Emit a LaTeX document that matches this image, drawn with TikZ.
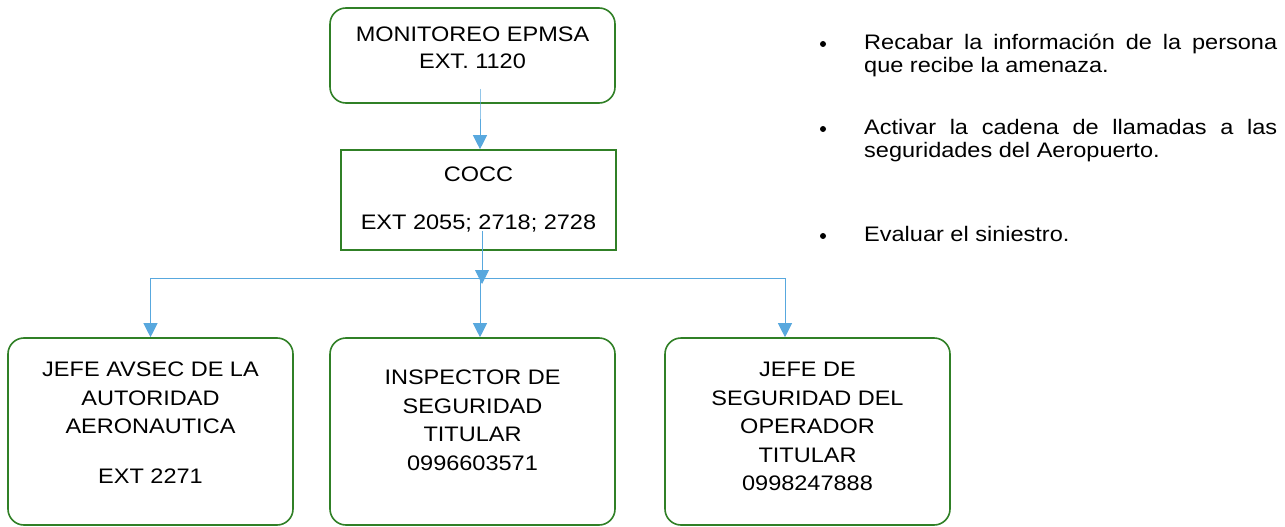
\documentclass[tikz,border=0pt]{standalone}
\usepackage{fontspec}
\setmainfont{Liberation Sans}[FakeStretch=1.12]
\usetikzlibrary{arrows.meta}
\definecolor{boxgreen}{RGB}{48,128,38}
\definecolor{conblue}{RGB}{88,168,222}
\begin{document}
\begin{tikzpicture}[x=1pt,y=-1pt,
  box/.style={draw=boxgreen, line width=1.6pt, rounded corners=16pt, inner sep=0pt,
    align=center, font=\fontsize{21}{28}\selectfont},
  sqbox/.style={box, rounded corners=0pt},
  btext/.style={anchor=north, inner sep=0pt, align=center, font=\fontsize{21}{28.5}\selectfont},
  conn/.style={draw=conblue, line width=0.9pt},
  arr/.style={conn, -{Triangle[width=14pt,length=14pt]}},
  bultext/.style={anchor=base west, inner sep=0pt, text width=413pt, align=justify,
    font=\fontsize{21}{23.5}\selectfont},
  dot/.style={circle, fill=black, inner sep=0pt, minimum size=6pt}
]
\useasboundingbox (0,0) rectangle (1285,527);
\fill[white] (0,0) rectangle (1285,527);

\node[box, minimum width=285pt, minimum height=95pt] (top) at (472.5,55.5) {};
\node[btext, font=\fontsize{21}{27}\selectfont] (topt) at (472.5,27) {MONITOREO EPMSA\\EXT. 1120};
\node[sqbox, minimum width=275pt, minimum height=100pt] (cocc) at (478.5,200)
  {COCC\\[20pt]EXT 2055; 2718; 2728};
\node[box, minimum width=285pt, minimum height=187pt] (b1) at (150.5,431.5) {};
\node[btext] (b1t) at (150.5,362) {JEFE AVSEC DE LA\\AUTORIDAD\\AERONAUTICA\\[21pt]EXT 2271};
\node[box, minimum width=285pt, minimum height=187pt] (b2) at (472.5,431.5) {};
\node[btext] (b2t) at (472.5,370) {INSPECTOR DE\\SEGURIDAD\\TITULAR\\0996603571};
\node[box, minimum width=285pt, minimum height=187pt] (b3) at (807.5,431.5) {};
\node[btext] (b3t) at (807.5,362) {JEFE DE\\SEGURIDAD DEL\\OPERADOR\\TITULAR\\0998247888};

\coordinate (busL) at (150.5,278);
\coordinate (busR) at (785,278);
\coordinate (busM) at (482,284);
\coordinate (midL) at (480,278);

\draw[arr] ([yshift=15pt]top.south -| 480,0) -- (top.south -| 480,0) -- (cocc.north -| 480,0);
\draw[arr] ([yshift=20pt]cocc.south -| busM) -- (busM);
\draw[conn] (busL) -- (busR);
\draw[arr] (busL) -- (b1.north -| busL);
\draw[arr] (midL) -- (b2.north -| midL);
\draw[arr] (busR) -- (b3.north -| busR);

\node[dot] (d1) at (823,44) {};
\node[bultext] (t1) at (864,49) {Recabar la información de la persona\linebreak que recibe la amenaza.};
\node[dot] (d2) at (823,129) {};
\node[bultext] (t2) at (864,134) {Activar la cadena de llamadas a las\linebreak seguridades del Aeropuerto.};
\node[dot] (d3) at (823,236) {};
\node[bultext] (t3) at (864,241) {Evaluar el siniestro.};
\end{tikzpicture}
\end{document}
